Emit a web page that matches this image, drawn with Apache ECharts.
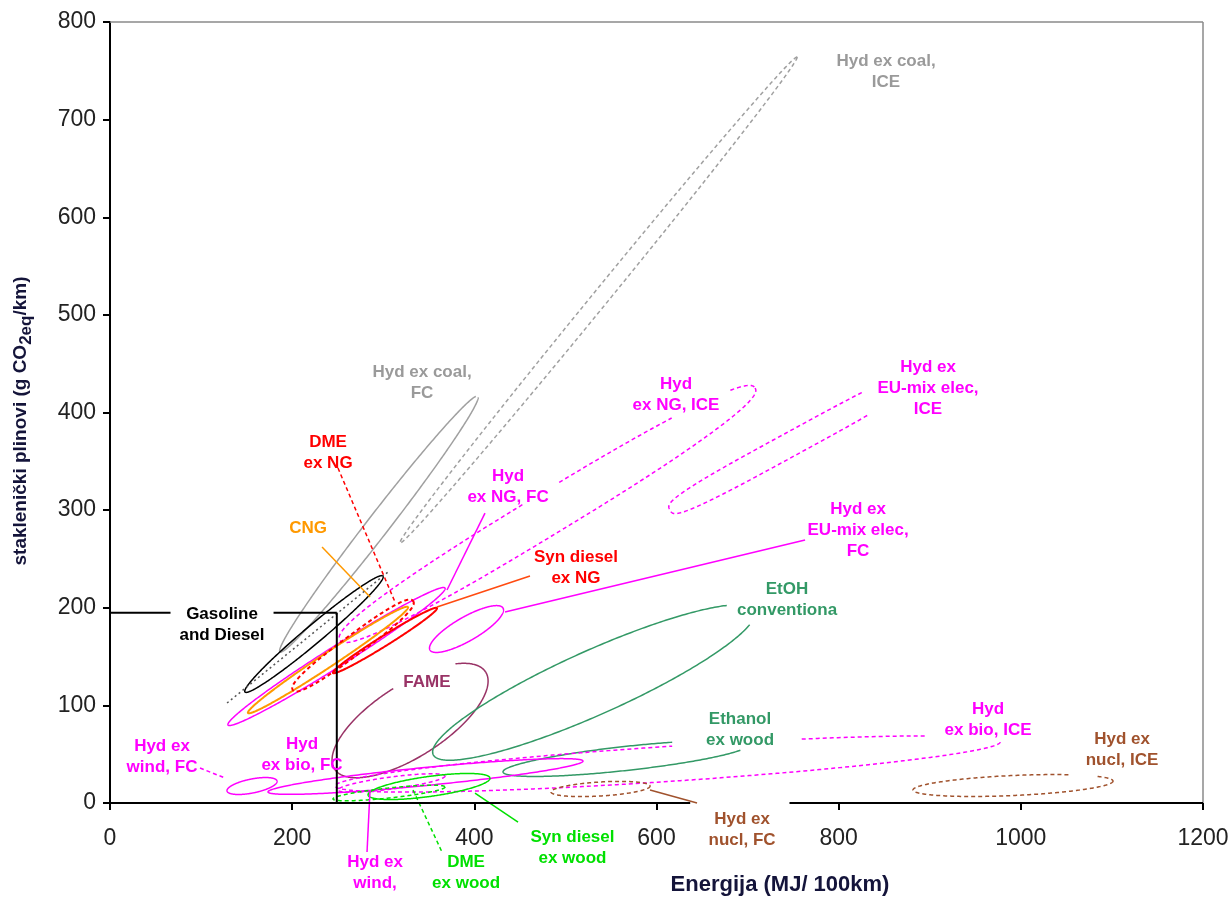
<!DOCTYPE html>
<html><head><meta charset="utf-8">
<script src="https://cdn.jsdelivr.net/npm/echarts@6/dist/echarts.min.js"></script>
<style>html,body{margin:0;padding:0;background:#fff}#c{width:1232px;height:899px}</style>
</head><body><div id="c"></div>
<script>
// ---------- axes ----------
const X_MIN = 0, X_MAX = 1200, X_STEP = 200;
const Y_MIN = 0, Y_MAX = 800, Y_STEP = 100;

// ---------- fuel pathway ranges (energy MJ/100km, GHG g CO2eq/km) ----------
// tips of each oval's long axis: [x1, y1, x2, y2]
const shapeNames = ['Hyd ex coal, ICE','Hyd ex coal, FC','Hyd ex NG, ICE','Hyd ex EU-mix elec, ICE','Hyd ex EU-mix elec, FC',
  'Hyd ex NG, FC','Gasoline and Diesel','CNG','Syn diesel ex NG','DME ex NG','FAME','EtOH conventional','Ethanol ex wood',
  'Hyd ex bio, ICE','Hyd ex bio, FC','Hyd ex wind, FC','Hyd ex wind, ICE','DME ex wood','Syn diesel ex wood','Hyd ex nucl, FC','Hyd ex nucl, ICE'];
const shapeTips = [
  [318.4,266.3,754.3,764.1],
  [186.6,154.7,404.0,416.9],
  [252.5,167.0,708.2,425.1],
  [614.8,300.1,880.5,435.3],
  [351.3,156.7,431.5,199.7],
  [129.6,79.9,367.8,220.2],
  [148.2,113.7,299.7,232.5],
  [151.5,92.2,327.2,200.8],
  [244.8,133.2,359.0,199.7],
  [200.9,115.7,332.7,206.9],
  [246.5,34.8,412.4,134.2],
  [354.8,49.6,708.0,197.3],
  [431.5,31.8,700.5,59.4],
  [247.0,17.4,977.2,62.5],
  [173.5,11.3,519.3,43.0],
  [128.5,12.3,183.4,22.5],
  [250.3,13.3,367.8,27.7],
  [244.8,4.1,367.8,16.4],
  [283.3,8.2,417.2,25.6],
  [484.2,11.3,592.9,17.4],
  [881.6,13.3,1101.2,22.5]
];
// oval thickness (half width, px), roundness exponent, drawn arcs (deg, 0 = upper-right tip)
const shapeHalfWidth = [8,11,21,12,12,10,9,7,5,10,36,32,12,17.5,9,7,6,5,10,7,10];
const shapeRound = [2,2,2.4,3.5,2,2,2,2,2,2.5,2,2,2,2,2,2,2,2,2,2,2];
const shapeArcs = [
  [[0,360]],[[6,352]],[[0,268],[274,306],[333,360]],[[67,298]],[[0,360]],
  [[0,360]],[[0,360]],[[0,360]],[[0,360]],[[0,360]],[[0,272],[320,360]],[[20,330]],[[21,293]],
  [[0,271],[294,321]],[[0,360]],[[0,360]],[[0,360]],[[0,360]],[[0,360]],[[0,360]],[[0,305],[328,360]]
];
const MAG = '#ff00ff', RED = '#ff0000', GRN = '#00e000', DKG = '#339966', BRN = '#a0522d', GRY = '#a0a0a0';
const shapeColors = [GRY,GRY,MAG,MAG,MAG,MAG,'#000000','#ff9900',RED,RED,'#993366',DKG,DKG,MAG,MAG,MAG,MAG,GRN,GRN,BRN,BRN];
const shapeDashed = [1,0,1,1,0,0,0,0,0,1,0,0,0,1,0,0,1,1,0,1,1];

// ---------- leader lines & frame segments [x1,y1,x2,y2] ----------
const leaderSegs = [
  [232.8,262.2,285.5,211.0],
  [250.3,343.1,312.9,205.9],
  [411.7,297.0,370.0,218.2],
  [359.0,200.8,461.1,232.5],
  [433.7,195.6,763.1,269.4],
  [592.9,13.3,644.5,0],
  [400.7,10.2,448.0,-19.5],
  [332.7,13.3,364.5,-50.2],
  [285.5,13.3,282.2,-50.2],
  [98.8,35.8,126.3,25.6],
  [128.5,102.4,305.2,236.6],
  [0,195,249,195],
  [249,195,249,0],
  [0,800,1200,800],
  [1200,800,1200,0],
  [0,0,637,0],
  [746,0,1200,0]
];
const leaderColors = ['#ff9900',RED,MAG,'#ff4a10',MAG,BRN,GRN,GRN,MAG,MAG,'#555555','#000','#000','#8a8a8a','#8a8a8a','#000','#000'];
const leaderDash = [0,1,0,0,0,0,0,1,0,1,2,0,0,0,0,0,0];
const leaderWidth = [1.5,1.5,1.5,1.5,1.5,1.5,1.5,1.5,1.5,1.5,1.5,2,2,1.5,1.5,2,2];

// ---------- annotation labels ----------
const labelTexts = ['Hyd ex coal,\nICE','Hyd ex coal,\nFC','DME\nex NG','CNG','Gasoline\nand Diesel','Hyd\nex NG, ICE','Hyd\nex NG, FC',
  'Hyd ex\nEU-mix elec,\nICE','Hyd ex\nEU-mix elec,\nFC','Syn diesel\nex NG','EtOH\nconventiona','FAME','Ethanol\nex wood',
  'Hyd\nex bio, ICE','Hyd ex\nnucl, ICE','Hyd ex\nwind, FC','Hyd\nex bio, FC','Hyd ex\nwind,','DME\nex wood','Syn diesel\nex wood','Hyd ex\nnucl, FC'];
const labelAt = [[852,748.7],[342.6,430.2],[239.4,358.5],[217.4,281.7],[123,182.5],[621.4,417.9],[437,323.7],
  [898.1,425.1],[821.3,279.6],[511.6,240.7],[743.3,207.9],[348,123.9],[691.7,74.8],
  [964,85],[1111.1,54.3],[57.1,47.1],[210.8,49.2],[291,-71],[390.9,-71],[507.7,-46.1],[694,-27.7]];
const labelColors = ['#9a9a9a','#9a9a9a',RED,'#ff9900','#000',MAG,MAG,MAG,MAG,RED,DKG,'#993366',DKG,MAG,BRN,MAG,MAG,MAG,GRN,GRN,BRN];

const FONT = '"Liberation Sans", Arial, sans-serif';

function dashOf(k){ return k === 1 ? [4,3] : (k === 2 ? [2,3] : null); }

function renderShape(params, api){
  const i = api.value(6);
  const p1 = api.coord([api.value(0), api.value(1)]);
  const p2 = api.coord([api.value(2), api.value(3)]);
  const hw = api.value(4), n = api.value(5);
  const cx = (p1[0]+p2[0])/2, cy = (p1[1]+p2[1])/2;
  const dx = p2[0]-p1[0], dy = p2[1]-p1[1], len = Math.hypot(dx,dy);
  const ux = dx/len, uy = dy/len, px = -uy, py = ux, a = len/2, e = 2/n;
  const sp = v => Math.sign(v)*Math.pow(Math.abs(v), e);
  const children = shapeArcs[i].map(([t0,t1]) => {
    const pts = [];
    for (let t = t0; t <= t1 + 1e-9; t += 1) {
      const r = t*Math.PI/180, u = a*sp(Math.cos(r)), v = hw*sp(Math.sin(r));
      pts.push([cx+u*ux+v*px, cy+u*uy+v*py]);
    }
    return {type:'polyline', shape:{points:pts},
      style:{fill:'none', stroke:shapeColors[i], lineWidth: shapeColors[i]===RED||shapeColors[i]==='#ff9900'?2:1.5, lineDash: shapeDashed[i]?[4,3]:null}};
  });
  return {type:'group', children};
}

function renderSeg(params, api){
  const i = api.value(4);
  const a = api.coord([api.value(0), api.value(1)]);
  const b = api.coord([api.value(2), api.value(3)]);
  return {type:'line', shape:{x1:a[0],y1:a[1],x2:b[0],y2:b[1]},
    style:{stroke:leaderColors[i], lineWidth:leaderWidth[i], lineDash:dashOf(leaderDash[i])}};
}

function renderLabel(params, api){
  const i = api.value(2);
  const p = api.coord([api.value(0), api.value(1)]);
  const st = {text:labelTexts[i], fill:labelColors[i], font:'bold 17px '+FONT, align:'center', verticalAlign:'middle', lineHeight:21};
  if (i === 4) { st.backgroundColor = '#fff'; st.padding = [0,9]; }
  return {type:'text', x:p[0], y:p[1], style:st, z2:10};
}

const chart = echarts.init(document.getElementById('c'), null, {renderer:'canvas'});
chart.setOption({
  animation:false,
  backgroundColor:'#fff',
  grid:{left:110, right:29, top:22, bottom:96, containLabel:false, outerBoundsMode:'none'},
  xAxis:{type:'value', min:X_MIN, max:X_MAX, interval:X_STEP,
    axisLine:{show:false}, axisTick:{show:true, length:7, lineStyle:{color:'#000', width:2}},
    axisLabel:{fontSize:23, color:'#222', margin:24, fontFamily:FONT, formatter: v => String(v)}, splitLine:{show:false}},
  yAxis:{type:'value', min:Y_MIN, max:Y_MAX, interval:Y_STEP,
    axisLine:{show:true, lineStyle:{color:'#000', width:2}}, axisTick:{show:true, length:7, lineStyle:{color:'#000', width:2}},
    axisLabel:{fontSize:23, color:'#222', margin:14, fontFamily:FONT, formatter: v => String(v)}, splitLine:{show:false}},
  graphic:[
    {type:'text', x:22, y:421, rotation:Math.PI/2,
      style:{text:'{n|staklenički plinovi (g CO}{s|2eq}{n|/km)}', align:'center', verticalAlign:'middle',
        rich:{n:{font:'bold 19px '+FONT, fill:'#14143a', verticalAlign:'top', lineHeight:22},
              s:{font:'bold 17px '+FONT, fill:'#14143a', verticalAlign:'top', lineHeight:22, padding:[7,0,0,0]}}}},
    {type:'text', x:780, y:885, style:{text:'Energija (MJ/ 100km)', font:'bold 22px '+FONT, fill:'#14143a', align:'center', verticalAlign:'middle'}}
  ],
  series:[
    {type:'custom', name:'ranges', clip:false, renderItem:renderShape, encode:{x:[0,2], y:[1,3]},
      data: shapeTips.map((t,i) => [t[0],t[1],t[2],t[3],shapeHalfWidth[i],shapeRound[i],i])},
    {type:'custom', name:'leaders', clip:false, renderItem:renderSeg, encode:{x:[0,2], y:[1,3]},
      data: leaderSegs.map((s,i) => [s[0],s[1],s[2],s[3],i])},
    {type:'custom', name:'labels', clip:false, z:5, renderItem:renderLabel, encode:{x:0, y:1},
      data: labelAt.map((p,i) => [p[0],p[1],i])}
  ]
});
</script></body></html>
